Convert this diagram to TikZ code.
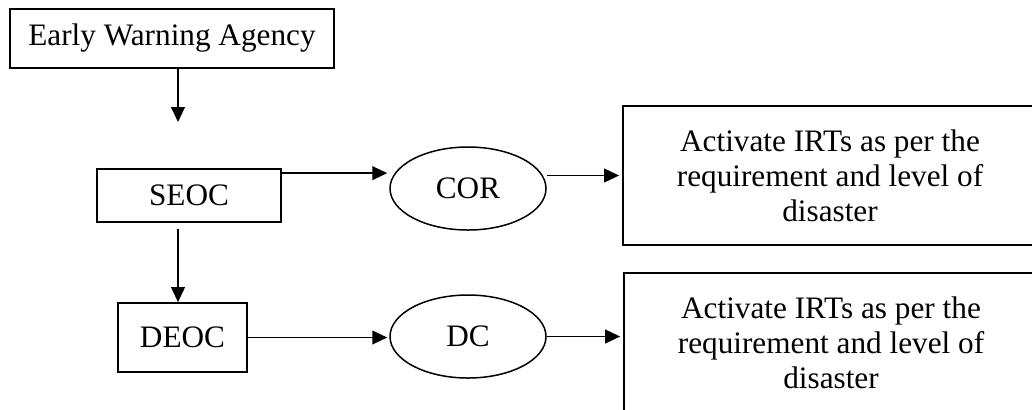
\documentclass[tikz,border=0pt]{standalone}
\usepackage{fontspec}
\setmainfont{Liberation Serif}
\usetikzlibrary{shapes,shapes.geometric,arrows.meta,calc,positioning}

\begin{document}
\begin{tikzpicture}[x=0.4pt, y=-0.4pt, line width=0.7pt, >={Triangle[length=6pt,width=5.5pt]},
    every node/.style={font=\fontsize{12.5}{14}\selectfont},
    box/.style={draw, rectangle, inner sep=0pt},
    oval/.style={draw, ellipse, inner sep=0pt, line width=0.6pt, minimum width=62.4pt, minimum height=33.2pt},
    action/.style={box, minimum width=165.6pt, minimum height=55.6pt, align=center}]
              \useasboundingbox (0,0) rectangle (1032,409);
              \node[box, minimum width=129.6pt, minimum height=23.6pt] (ewa) at (172,38.5) {Early Warning Agency};
              \node[box, minimum width=73.6pt, minimum height=21.2pt] (seoc) at (189,195.5) {SEOC};
              \node[box, minimum width=51.6pt, minimum height=27.6pt] (deoc) at (182.5,337.5) {DEOC};
              \node[oval] (cor) at (468,188.5) {COR};
              \node[oval] (dc) at (468,336.5) {DC};
              \node[action] (act1) at (830,175.5) {Activate IRTs as per the\\requirement and level of\\disaster};
              \node[action] (act2) at (831,342.5) {Activate IRTs as per the\\requirement and level of\\disaster};
              \coordinate (ewaend) at (178,122);

            \draw[->] (ewa.south -| ewaend) -- (ewaend);
            \draw[->, shorten <=2.4pt] (seoc.south -| ewaend) -- (deoc.north -| ewaend);
            \draw[->, shorten >=0.8pt] ([yshift=-5*0.4pt]seoc.north east) -- ([yshift=-5*0.4pt]seoc.north east -| cor.west);
            \path[->]
                      (cor.east |- act1.west) edge[shorten >=1.2pt] (act1.west)
                      (deoc.east) edge[shorten >=0.8pt] (deoc.east -| dc.west)
                      (dc.east) edge[shorten >=1.2pt] (dc.east -| act2.west);
            \end{tikzpicture}
\end{document}
